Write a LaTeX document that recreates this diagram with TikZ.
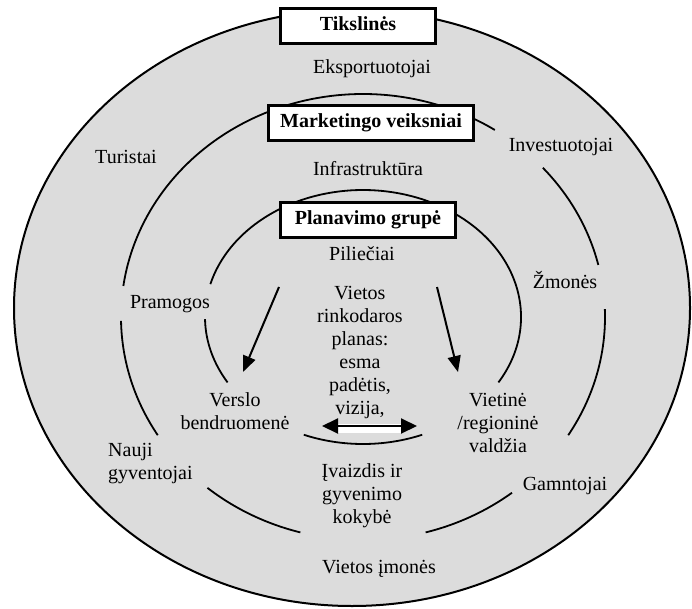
\documentclass[tikz,border=0pt]{standalone}
\usepackage{fontspec}
\setmainfont{Liberation Serif}
\usetikzlibrary{arrows.meta}
\definecolor{bandgray}{RGB}{220,220,220}
\begin{document}
\begin{tikzpicture}[x=1pt,y=1pt,
  lbl/.style={inner sep=0pt, font=\fontsize{20}{23}\selectfont, text height=14pt, text depth=4pt},
  multi/.style={inner sep=0pt, font=\fontsize{20}{23}\selectfont, align=center},
  titlebox/.style={draw, line width=3pt, fill=white, inner sep=0pt, minimum height=35pt,
    font=\fontsize{20}{23}\selectfont\bfseries, text height=14pt, text depth=4pt},
  ring/.style={line width=1.8pt},
  flow/.style={line width=2pt, -{Triangle[length=16pt,width=13pt]}},
  twoway/.style={line width=2pt, {Triangle[length=16pt,width=15pt]}-{Triangle[length=16pt,width=15pt]}}]
\useasboundingbox (0,0) rectangle (692,-609);

% outer field
\draw[line width=2pt, fill=bandgray] (352,-308) ellipse [x radius=338pt, y radius=298pt];

\coordinate (mid) at (363,-317);
% middle ring, broken where the labels sit
\foreach \a/\b in {57/172, 181/212, 230/255, 285/308, 328/362, 13.5/42}
  \draw[ring] ([shift={(\a:242pt and 223pt)}]mid) arc[start angle=\a, end angle=\b, x radius=242pt, y radius=223pt];
% inner ring
\foreach \a/\b in {-31/165, 181/211, 248/292}
  \draw[ring] ([shift={(\a:158pt and 127pt)}]mid) arc[start angle=\a, end angle=\b, x radius=158pt, y radius=127pt];

% ring titles
\node[titlebox, minimum width=155pt] (tiks) at (358,-26) {Tikslinės};
\node[titlebox, minimum width=205pt] (mark) at (371,-123) {Marketingo veiksniai};
\node[titlebox, minimum width=175pt] (plan) at (368,-220) {Planavimo grupė};

% outer band
\node[lbl] (eksp) at (372,-69) {Eksportuotojai};
\node[lbl] (tur) at (126,-159) {Turistai};
\node[lbl] (inv) at (561,-147) {Investuotojai};
\node[multi, align=left, anchor=west] (nauji) at (108,-464) {Nauji\\gyventojai};
\node[lbl] (gamn) at (565,-485) {Gamntojai};
\node[lbl] (imon) at (379,-568) {Vietos įmonės};

% middle band
\node[lbl] (infra) at (368,-171) {Infrastruktūra};
\node[lbl] (pram) at (170,-303) {Pramogos};
\node[lbl] (zmon) at (565,-283) {Žmonės};
\node[multi] (ivaiz) at (362,-496) {Įvaizdis ir\\gyvenimo\\kokybė};

% inner area
\node[lbl] (pil) at (362,-255) {Piliečiai};
\node[multi] (planas) at (360,-353) {Vietos\\rinkodaros\\planas:\\esma\\padėtis,\\vizija,};
\node[multi] (versl) at (235,-411) {Verslo\\bendruomenė};
\node[multi] (vald) at (498,-423) {Vietinė\\/regioninė\\valdžia};

% arrows
\coordinate (a1s) at (279,-287);
\coordinate (a1e) at (243,-372);
\coordinate (a2s) at (437,-287);
\coordinate (a2e) at (458,-372);
\draw[flow] (a1s) -- (a1e);
\draw[flow] (a2s) -- (a2e);

\coordinate (dl) at (322,-426);
\coordinate (dr) at (417,-426);
\fill[white] (336,-424) rectangle (404,-433);
\draw[twoway] (dl) -- (dr);
\end{tikzpicture}
\end{document}
